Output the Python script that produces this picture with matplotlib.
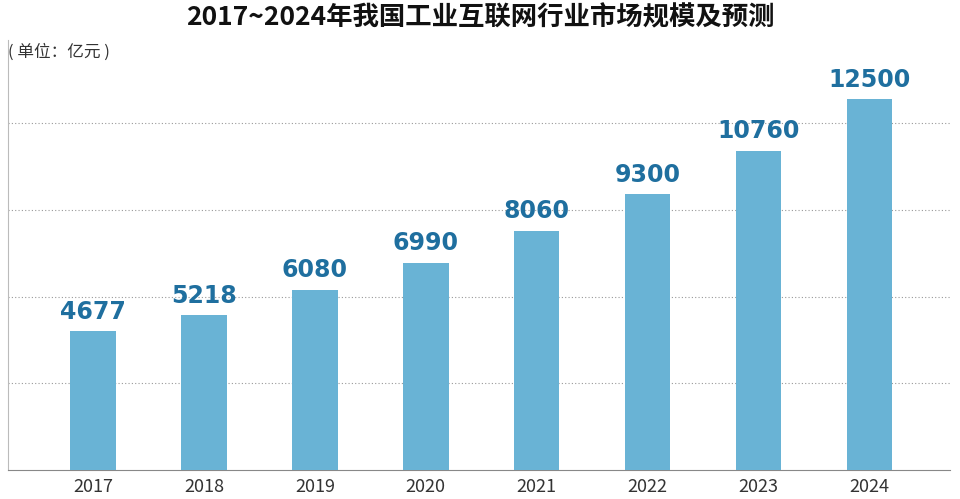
import matplotlib
matplotlib.use("Agg")
import matplotlib.pyplot as plt

plt.rcParams['font.family'] = ['Noto Sans CJK SC', 'DejaVu Sans']

years = ["2017", "2018", "2019", "2020", "2021", "2022", "2023", "2024"]
values = [4677, 5218, 6080, 6990, 8060, 9300, 10760, 12500]

fig = plt.figure(figsize=(9.6, 4.99), dpi=100)
ax = fig.add_axes([0.008, 0.058, 0.982, 0.862])
x = range(len(years))
ax.bar(x, values, width=0.41, color="#69b3d5", zorder=3)
for i, v in zip(x, values):
    ax.text(i, v + 250, str(v), ha="center", va="bottom", fontsize=17,
            fontweight="bold", color="#1f6f9f", family=["DejaVu Sans"])
ax.set_xlim(-0.77, 7.73)
ax.set_ylim(0, 14490)
ax.set_yticks([2920, 5840, 8760, 11680])
ax.yaxis.grid(True, linestyle=(0, (1, 2)), color="#999999", linewidth=0.8, zorder=0)
ax.tick_params(axis="y", left=False, labelleft=False)
ax.set_xticks(list(x))
ax.set_xticklabels(years, fontsize=13, color="#333333")
ax.tick_params(axis="x", length=0, pad=6)
for s in ["top", "right"]:
    ax.spines[s].set_visible(False)
ax.spines["bottom"].set_color("#888888")
ax.spines["left"].set_color("#bbbbbb")
fig.text(0.5, 0.965, "2017~2024年我国工业互联网行业市场规模及预测", ha="center", va="center",
         fontsize=19, fontweight="bold", color="#111111")
fig.text(0.008, 0.895, "( 单位：亿元 )", ha="left", va="center", fontsize=12, color="#333333")
fig.savefig("out.png", dpi=100)
